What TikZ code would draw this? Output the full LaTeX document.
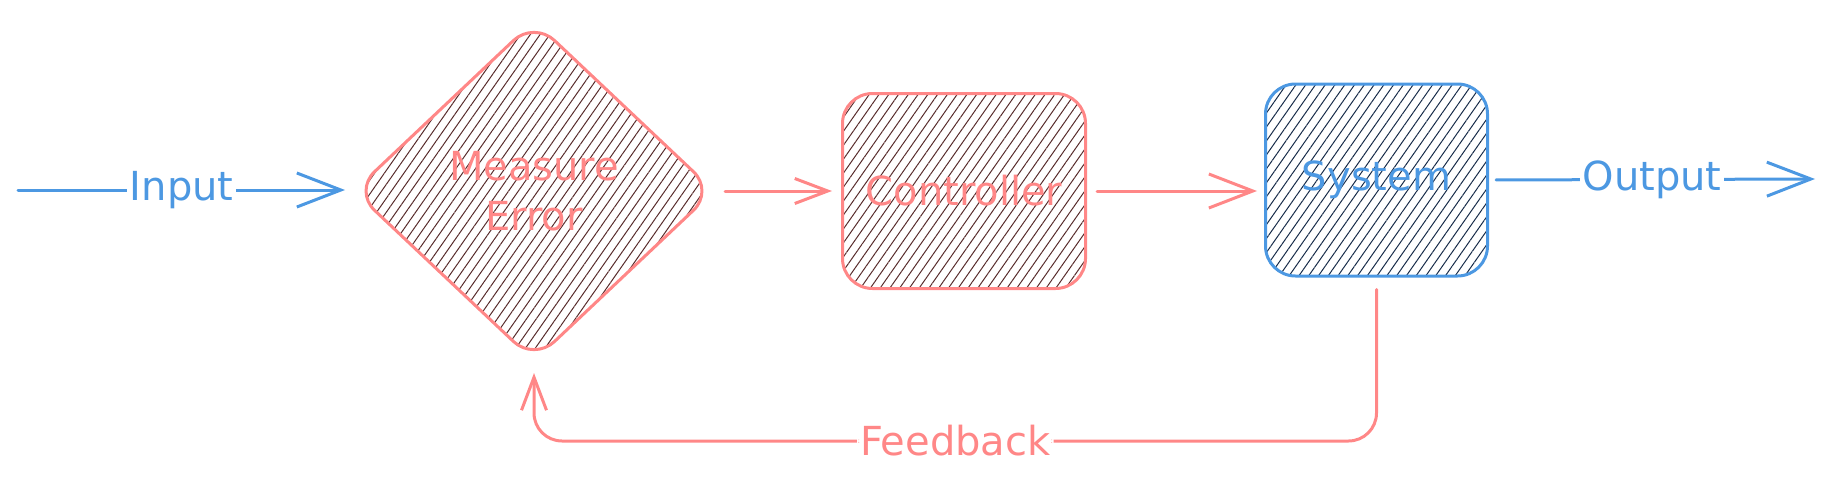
\documentclass[tikz,border=0pt]{standalone}
\usepackage{fontspec}
\setmainfont{DejaVu Sans}
\usepackage{tikz}
\usetikzlibrary{arrows.meta,positioning,shapes.geometric,patterns.meta}
\definecolor{sketchred}{RGB}{255,135,135}
\definecolor{sketchblue}{RGB}{76,152,226}
\definecolor{hatchred}{RGB}{88,44,44}
\definecolor{hatchblue}{RGB}{24,44,74}
\newcommand{\hand}{\fontsize{40}{50}\selectfont}

\begin{document}
\begin{tikzpicture}[
  x=1pt, y=-1pt,
  redhatch/.style={preaction={pattern={Lines[angle=55,distance=8pt,line width=1pt]},
    pattern color=hatchred}},
  bluehatch/.style={preaction={pattern={Lines[angle=55,distance=8pt,line width=1pt]},
    pattern color=hatchblue}},
  stage/.style={rectangle, draw, rounded corners=30pt,
    line width=3pt, inner sep=0pt, font=\hand},
  redstage/.style={stage, redhatch, draw=sketchred, text=sketchred,
    minimum width=243pt, minimum height=195pt},
  bluestage/.style={stage, bluehatch, draw=sketchblue, text=sketchblue,
    minimum width=222pt, minimum height=192pt},
  check/.style={diamond, redhatch, draw=sketchred, text=sketchred,
    rounded corners=28pt, line width=3pt, inner sep=0pt,
    minimum width=361pt, minimum height=341pt,
    align=center, font=\hand},
  link/.style={line width=3pt, line cap=round, line join=round},
  bigarrow/.style={link, -{Straight Barb[length=44pt,width=34pt]}},
  smallarrow/.style={link, -{Straight Barb[length=33pt,width=25pt]}},
  flowlabel/.style={fill=white, inner sep=3pt, font=\hand},
]
  \useasboundingbox (0,0) rectangle (1834,485);

  \node[check] (err) at (534,191) {Measure\\Error};
  \node[redstage, right=125pt of err] (ctrl) {Controller};
  \node[bluestage, right=177pt of ctrl, yshift=11pt] (sys) {System};

  \coordinate (src) at (18,190);
  \coordinate (sink) at (1815,179);
  \coordinate (fbk) at (0,441);

  \draw[bigarrow, sketchblue, shorten >=7pt] (src) -- (src -| err.west)
    node[flowlabel, pos=0.49] {Input};
  \draw[smallarrow, sketchred, shorten <=9pt, shorten >=9pt]
    (err.east) -- (ctrl.west);
  \draw[bigarrow, sketchred, shorten <=10pt, shorten >=7pt]
    (ctrl.east) -- (ctrl.east -| sys.west);
  \draw[bigarrow, sketchblue, shorten <=7pt] (sys.east) -- (sink)
    node[flowlabel, midway] {Output};
  \draw[smallarrow, sketchred, rounded corners=28pt,
        shorten <=12pt, shorten >=10pt]
    (sys.south) -- (sys.south |- fbk)
    -- node[flowlabel] {Feedback} (err.south |- fbk) -- (err.south);
\end{tikzpicture}
\end{document}
